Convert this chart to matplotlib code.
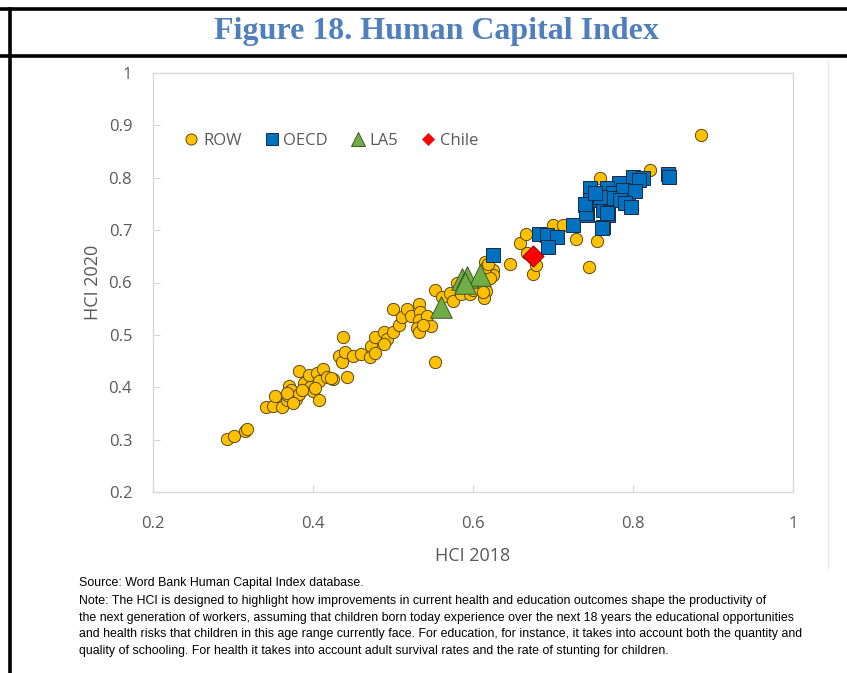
import matplotlib
matplotlib.use("Agg")
import matplotlib.pyplot as plt
from matplotlib.lines import Line2D
import numpy as np

# ---------------- data ----------------
row_2018 = [0.292, 0.301, 0.315, 0.318, 0.341, 0.350, 0.353, 0.361, 0.367, 0.370,
            0.373, 0.379, 0.382, 0.383, 0.389, 0.396, 0.395, 0.400, 0.405, 0.407,
            0.408, 0.413, 0.418, 0.425, 0.432, 0.436, 0.438, 0.440, 0.442, 0.450,
            0.460, 0.471, 0.472, 0.478, 0.478, 0.489, 0.493, 0.489, 0.500, 0.507,
            0.500, 0.511, 0.518, 0.523, 0.533, 0.534, 0.532, 0.542, 0.530, 0.532,
            0.547, 0.538, 0.553, 0.553, 0.561, 0.571, 0.575, 0.585, 0.596, 0.600,
            0.616, 0.614, 0.580, 0.613, 0.625, 0.625, 0.621, 0.615, 0.616, 0.619,
            0.646, 0.659, 0.666, 0.667, 0.675, 0.679, 0.700, 0.712, 0.729, 0.745,
            0.755, 0.759, 0.821, 0.885, 0.367, 0.368, 0.386, 0.423, 0.375, 0.402,
            0.755, 0.785, 0.800, 0.770]
row_2020 = [0.301, 0.307, 0.316, 0.321, 0.363, 0.365, 0.383, 0.362, 0.375, 0.403,
            0.394, 0.378, 0.387, 0.431, 0.408, 0.400, 0.424, 0.392, 0.427, 0.411,
            0.375, 0.435, 0.420, 0.415, 0.459, 0.449, 0.496, 0.468, 0.420, 0.459,
            0.464, 0.457, 0.478, 0.466, 0.496, 0.506, 0.492, 0.483, 0.506, 0.519,
            0.549, 0.534, 0.549, 0.536, 0.559, 0.543, 0.529, 0.536, 0.513, 0.506,
            0.516, 0.519, 0.449, 0.585, 0.572, 0.580, 0.564, 0.578, 0.578, 0.586,
            0.583, 0.570, 0.599, 0.581, 0.624, 0.615, 0.608, 0.640, 0.630, 0.636,
            0.635, 0.675, 0.693, 0.656, 0.616, 0.634, 0.710, 0.710, 0.684, 0.630,
            0.680, 0.799, 0.815, 0.882, 0.385, 0.389, 0.395, 0.417, 0.370, 0.398,
            0.760, 0.770, 0.785, 0.745]

oecd_2018 = [0.844, 0.845, 0.800, 0.813, 0.808, 0.782, 0.767, 0.746, 0.746, 0.740,
             0.742, 0.763, 0.763, 0.769, 0.775, 0.788, 0.794, 0.803, 0.762, 0.725,
             0.771, 0.784, 0.759, 0.625, 0.682, 0.693, 0.705, 0.694, 0.741, 0.740,
             0.761, 0.768, 0.752, 0.790, 0.797]
oecd_2020 = [0.807, 0.801, 0.802, 0.799, 0.796, 0.790, 0.780, 0.780, 0.758, 0.748,
             0.729, 0.758, 0.739, 0.729, 0.770, 0.777, 0.754, 0.774, 0.706, 0.709,
             0.761, 0.758, 0.764, 0.653, 0.692, 0.690, 0.686, 0.667, 0.732, 0.750,
             0.705, 0.732, 0.770, 0.752, 0.745]

la5_2018 = [0.560, 0.586, 0.593, 0.609, 0.590]
la5_2020 = [0.553, 0.607, 0.611, 0.615, 0.600]

chile_2018 = [0.675]
chile_2020 = [0.651]

series_names = ["ROW", "OECD", "LA5", "Chile"]
x_ticks = [0.2, 0.4, 0.6, 0.8, 1.0]
x_tick_labels = ["0.2", "0.4", "0.6", "0.8", "1"]
y_ticks = [0.2, 0.3, 0.4, 0.5, 0.6, 0.7, 0.8, 0.9, 1.0]
y_tick_labels = ["0.2", "0.3", "0.4", "0.5", "0.6", "0.7", "0.8", "0.9", "1"]

title = "Figure 18. Human Capital Index"
xlabel = "HCI 2018"
ylabel = "HCI 2020"
notes = [
    "Source: Word Bank Human Capital Index database.",
    "Note: The HCI is designed to highlight how improvements in current health and education outcomes shape the productivity of",
    "the next generation of workers, assuming that children born today experience over the next 18 years the educational opportunities",
    "and health risks that children in this age range currently face. For education, for instance, it takes into account both the quantity and",
    "quality of schooling. For health it takes into account adult survival rates and the rate of stunting for children.",
]

# ---------------- figure ----------------
W, H = 847, 673
fig = plt.figure(figsize=(W / 100, H / 100), dpi=100)
fig.patch.set_facecolor("white")

def fx(px):
    return px / W

def fy(py):
    return 1 - py / H

ax = fig.add_axes([fx(153), fy(492), fx(793) - fx(153), fy(73) - fy(492)])

gray_text = "#595959"
spine_col = "#D9D9D9"
tick_font = ["Open Sans", "DejaVu Sans"]

ax.scatter(row_2018, row_2020, s=78, marker="o", facecolor="#FFC000",
           edgecolor="#5A4A1A", linewidth=0.7, zorder=2, label=series_names[0])
ax.scatter(oecd_2018, oecd_2020, s=110, marker="s", facecolor="#0070C0",
           edgecolor="#1C2A44", linewidth=0.7, zorder=3, label=series_names[1])
ax.scatter(la5_2018, la5_2020, s=240, marker="^", facecolor="#70AD47",
           edgecolor="#3A5A25", linewidth=0.7, zorder=4, label=series_names[2])
ax.scatter(chile_2018, chile_2020, s=115, marker="D", facecolor="#FF0000",
           edgecolor="#8B0000", linewidth=0.7, zorder=5, label=series_names[3])

ax.set_xlim(0.2, 1.0)
ax.set_ylim(0.2, 1.0)
ax.set_xticks(x_ticks)
ax.set_xticklabels(x_tick_labels)
ax.set_yticks(y_ticks)
ax.set_yticklabels(y_tick_labels)
for sp in ax.spines.values():
    sp.set_color(spine_col)
    sp.set_linewidth(1.0)
ax.tick_params(direction="in", length=5, color=spine_col, labelcolor=gray_text,
               labelsize=12, pad=15)
ax.tick_params(axis="x", pad=17)
for lab in ax.get_xticklabels() + ax.get_yticklabels():
    lab.set_family(tick_font)

ax.set_xlabel(xlabel, fontsize=13, color=gray_text, family=tick_font, labelpad=11)
ax.set_ylabel(ylabel, fontsize=13, color=gray_text, family=tick_font, labelpad=5)

handles = [
    Line2D([], [], ls="none", marker="o", markersize=8, markerfacecolor="#FFC000",
           markeredgecolor="#5A4A1A", markeredgewidth=0.7),
    Line2D([], [], ls="none", marker="s", markersize=8, markerfacecolor="#0070C0",
           markeredgecolor="#1C2A44", markeredgewidth=0.7),
    Line2D([], [], ls="none", marker="^", markersize=10, markerfacecolor="#70AD47",
           markeredgecolor="#3A5A25", markeredgewidth=0.7),
    Line2D([], [], ls="none", marker="D", markersize=6, markerfacecolor="#FF0000",
           markeredgecolor="#FF0000", markeredgewidth=0.5),
]
leg = ax.legend(handles, series_names, ncol=4, frameon=False,
                loc="center left", bbox_to_anchor=(fx(178), fy(141)),
                bbox_transform=fig.transFigure, handlelength=0.8,
                handletextpad=0.3, columnspacing=1.4, borderaxespad=0,
                prop={"family": tick_font, "size": 12})
for t in leg.get_texts():
    t.set_color(gray_text)

# ---------------- frame & title ----------------
lw = 2.6
fig.add_artist(Line2D([fx(0), fx(W)], [fy(9), fy(9)], color="black", lw=lw))
fig.add_artist(Line2D([fx(0), fx(W)], [fy(56), fy(56)], color="black", lw=lw))
fig.add_artist(Line2D([fx(10), fx(10)], [fy(9), fy(H)], color="black", lw=lw))
fig.add_artist(Line2D([fx(828), fx(828)], [fy(60), fy(570)], color="#EBEBEB", lw=1))

fig.text(fx(436), fy(31), title, ha="center", va="center", fontsize=23,
         fontweight="bold", color="#4F7FBC", family=["Liberation Serif", "DejaVu Serif"])

note_font = ["Liberation Sans Narrow", "Liberation Sans", "DejaVu Sans"]
ys = [583, 601, 618, 634, 651]
for txt, yy in zip(notes, ys):
    fig.text(fx(79), fy(yy), txt, ha="left", va="center", fontsize=8.88,
             color="black", family=note_font)

fig.savefig("out.png", dpi=100, facecolor="white")
